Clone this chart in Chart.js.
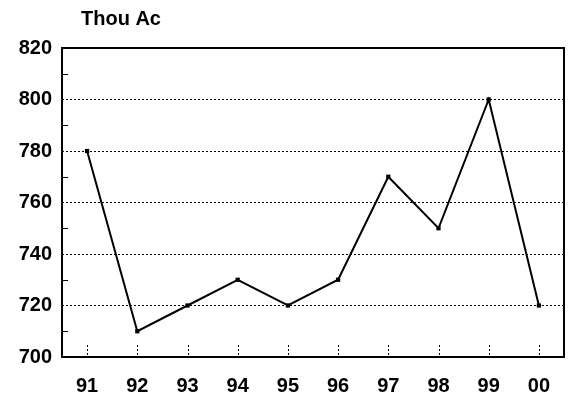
<!DOCTYPE html>
<html>
<head>
<meta charset="utf-8">
<script src="https://cdn.jsdelivr.net/npm/chart.js@4"></script>
<style>
  body { margin: 0; background: #fff; }
  canvas { display: block; }
</style>
</head>
<body>
<canvas id="myChart" width="570" height="400"></canvas>
<script>
var years = ["91", "92", "93", "94", "95", "96", "97", "98", "99", "00"];
var acres = [780, 710, 720, 730, 720, 730, 770, 750, 800, 720];
var yMin = 700;
var yMax = 820;
var yStep = 20;
var minorTicks = [710, 730, 750, 770, 790, 810];
var unitLabel = "Thou Ac";

var FONT = "'Liberation Sans', Arial, sans-serif";

// frame, minor ticks, bottom dotted marks, unit label
var decor = {
  id: "decor",
  beforeDatasetsDraw: function (chart) {
    var c = chart.ctx;
    var a = chart.chartArea;
    var y = chart.scales.y;
    var x = chart.scales.x;
    c.save();
    c.strokeStyle = "#000";
    c.lineWidth = 1;
    minorTicks.forEach(function (v) {
      var py = Math.round(y.getPixelForValue(v)) + 0.5;
      c.beginPath();
      c.moveTo(a.left, py);
      c.lineTo(a.left + 6, py);
      c.stroke();
    });
    c.setLineDash([2, 2]);
    years.forEach(function (lab, i) {
      var px = Math.round(x.getPixelForTick(i)) + 0.5;
      c.beginPath();
      c.moveTo(px, a.bottom - 12);
      c.lineTo(px, a.bottom - 2);
      c.stroke();
    });
    c.restore();
  },
  afterDraw: function (chart) {
    var c = chart.ctx;
    var a = chart.chartArea;
    c.save();
    c.strokeStyle = "#000";
    c.lineWidth = 2;
    c.strokeRect(a.left, a.top, a.right - a.left, a.bottom - a.top);
    c.fillStyle = "#000";
    c.font = "bold 20px " + FONT;
    c.textAlign = "center";
    c.textBaseline = "middle";
    c.fillText(unitLabel, a.left + 59, 19);
    c.restore();
  },
};

var ctx = document.getElementById("myChart").getContext("2d");

var myChart = new Chart(ctx, {
  type: "line",
  data: {
    labels: years,
    datasets: [
      {
        data: acres,
        borderColor: "#000",
        backgroundColor: "#000",
        borderWidth: 2,
        pointStyle: "rect",
        pointRadius: 3,
        pointBorderWidth: 0,
        lineTension: 0,
        fill: false,
      },
    ],
  },
  options: {
    responsive: false,
    animation: false,
    layout: {
      padding: { top: 48, right: 6, bottom: 0, left: 0 },
    },
    plugins: {
      legend: { display: false },
      tooltip: { enabled: false },
    },
    scales: {
      x: {
        offset: true,
        afterFit: function (scale) {
          scale.height = 43;
        },
        grid: {
          display: false,
          drawTicks: false,
        },
        border: { display: false },
        ticks: {
          color: "#000",
          padding: 17,
          maxRotation: 0,
          font: { family: FONT, size: 20, weight: "bold" },
        },
      },
      y: {
        min: yMin,
        max: yMax,
        afterFit: function (scale) {
          scale.width = 62;
        },
        grid: {
          drawTicks: false,
          lineWidth: 1,
          color: function (c) {
            var v = c.tick && c.tick.value;
            return v > yMin && v < yMax ? "#000" : "rgba(0,0,0,0)";
          },
        },
        border: { display: false, dash: [2, 2] },
        ticks: {
          stepSize: yStep,
          color: "#000",
          padding: 10,
          font: { family: FONT, size: 20, weight: "bold" },
        },
      },
    },
  },
  plugins: [decor],
});
</script>
</body>
</html>
